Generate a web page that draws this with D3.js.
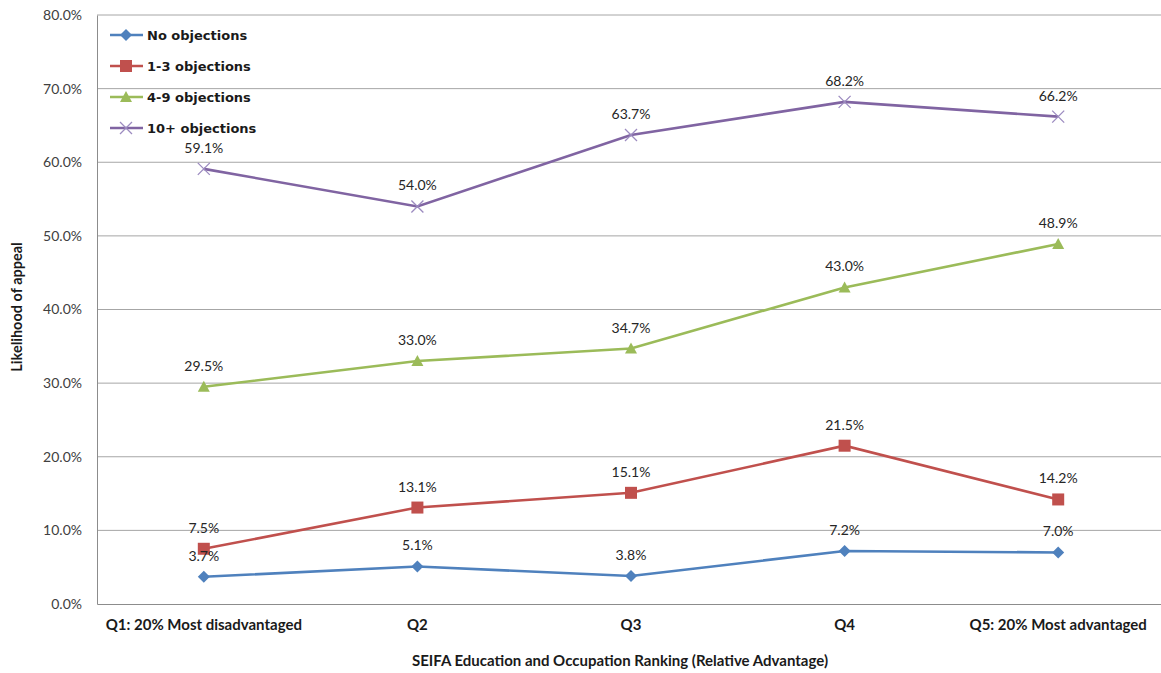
<!DOCTYPE html>
<html>
<head>
<meta charset="utf-8">
<script src="https://cdn.jsdelivr.net/npm/d3@7"></script>
<style>
  html, body { margin: 0; padding: 0; background: #fff; }
  svg { display: block; font-family: Lato, "Open Sans", sans-serif; }
</style>
</head>
<body>
<svg id="chart" width="1161" height="673"></svg>
<script>
// Quintile categories along the x axis
const categories = ["Q1: 20% Most disadvantaged", "Q2", "Q3", "Q4", "Q5: 20% Most advantaged"];

// Likelihood of appeal (%) per number of objections
const noObjections   = [3.7, 5.1, 3.8, 7.2, 7.0];
const oneToThree     = [7.5, 13.1, 15.1, 21.5, 14.2];
const fourToNine     = [29.5, 33.0, 34.7, 43.0, 48.9];
const tenPlus        = [59.1, 54.0, 63.7, 68.2, 66.2];

const seriesNames = ["No objections", "1-3 objections", "4-9 objections", "10+ objections"];
const yTicks = [0, 10, 20, 30, 40, 50, 60, 70, 80];

const seriesList = [
  { name: seriesNames[0], values: noObjections, color: "#4F81BD", marker: "diamond" },
  { name: seriesNames[1], values: oneToThree,   color: "#C0504D", marker: "square" },
  { name: seriesNames[2], values: fourToNine,   color: "#9BBB59", marker: "triangle" },
  { name: seriesNames[3], values: tenPlus,      color: "#8064A2", marker: "cross" }
];

const svg = d3.select("#chart");
const margin = { left: 97, top: 15, bottom: 69 };
const plotW = 1068;
const plotH = 673 - margin.top - margin.bottom;

const x = d3.scaleBand().domain(categories).range([margin.left, margin.left + plotW]);
const y = d3.scaleLinear().domain([0, 80]).range([margin.top + plotH, margin.top]);
const cx = c => x(c) + x.bandwidth() / 2;

// Horizontal gridlines
svg.append("g").selectAll("line").data(yTicks.filter(t => t > 0)).join("line")
  .attr("x1", margin.left).attr("x2", margin.left + plotW)
  .attr("y1", d => y(d)).attr("y2", d => y(d))
  .attr("stroke", "#A6A6A6").attr("stroke-width", 1);

// Y axis
const yAxis = svg.append("g").attr("transform", `translate(${margin.left},0)`)
  .call(d3.axisLeft(y).tickValues(yTicks).tickFormat(d => d.toFixed(1) + "%").tickSize(0).tickPadding(15));
yAxis.select(".domain").attr("stroke", "#8C8C8C");
yAxis.selectAll("text").attr("font-size", 14).attr("fill", "#404040").attr("font-family", "Lato, sans-serif");

// X axis
const xAxis = svg.append("g").attr("transform", `translate(0,${margin.top + plotH})`)
  .call(d3.axisBottom(x).tickSize(0).tickPadding(15));
xAxis.select(".domain").attr("stroke", "#8C8C8C");
xAxis.selectAll("text").attr("font-size", 15).attr("font-weight", "bold").attr("fill", "#1a1a1a").attr("font-family", "Lato, sans-serif");

// Axis titles
svg.append("text").attr("x", 620).attr("y", 666).attr("text-anchor", "middle")
  .attr("font-size", 15).attr("font-weight", "bold").attr("fill", "#1a1a1a")
  .text("SEIFA Education and Occupation Ranking (Relative Advantage)");
svg.append("text").attr("transform", "translate(22,307) rotate(-90)").attr("text-anchor", "middle")
  .attr("font-size", 14.5).attr("font-weight", "bold").attr("fill", "#1a1a1a")
  .text("Likelihood of appeal");

function drawMarker(g, type, color) {
  if (type === "diamond") {
    g.append("path").attr("d", "M0,-6L6,0L0,6L-6,0Z").attr("fill", color);
  } else if (type === "square") {
    g.append("rect").attr("x", -6).attr("y", -6).attr("width", 12).attr("height", 12).attr("fill", color);
  } else if (type === "triangle") {
    g.append("path").attr("d", "M0,-6L6,5L-6,5Z").attr("fill", color);
  } else {
    g.append("path").attr("d", "M-6,-6L6,6M-6,6L6,-6").attr("stroke", "#9C8BC0").attr("stroke-width", 1.3).attr("fill", "none");
  }
}

const line = d3.line().x((d, i) => cx(categories[i])).y(d => y(d));

seriesList.forEach(s => {
  svg.append("path").datum(s.values).attr("d", line)
    .attr("fill", "none").attr("stroke", s.color).attr("stroke-width", 2.6);
  s.values.forEach((v, i) => {
    const g = svg.append("g").attr("transform", `translate(${cx(categories[i])},${y(v)})`);
    drawMarker(g, s.marker, s.color);
  });
});

// Data labels
seriesList.forEach(s => {
  s.values.forEach((v, i) => {
    svg.append("text").attr("x", cx(categories[i])).attr("y", y(v) - 16)
      .attr("text-anchor", "middle").attr("font-size", 14).attr("fill", "#262626")
      .text(v.toFixed(1) + "%");
  });
});

// Legend
const legend = svg.append("g");
seriesList.forEach((s, i) => {
  const ly = 35 + i * 31;
  legend.append("line").attr("x1", 110).attr("x2", 143).attr("y1", ly).attr("y2", ly)
    .attr("stroke", s.color).attr("stroke-width", 2.6);
  const g = legend.append("g").attr("transform", `translate(126,${ly})`);
  drawMarker(g, s.marker, s.color);
  legend.append("text").attr("x", 147).attr("y", ly + 5).attr("font-size", 13)
    .attr("font-family", "'DejaVu Sans', sans-serif")
    .attr("font-weight", "bold").attr("fill", "#1a1a1a").text(s.name);
});
</script>
</body>
</html>
